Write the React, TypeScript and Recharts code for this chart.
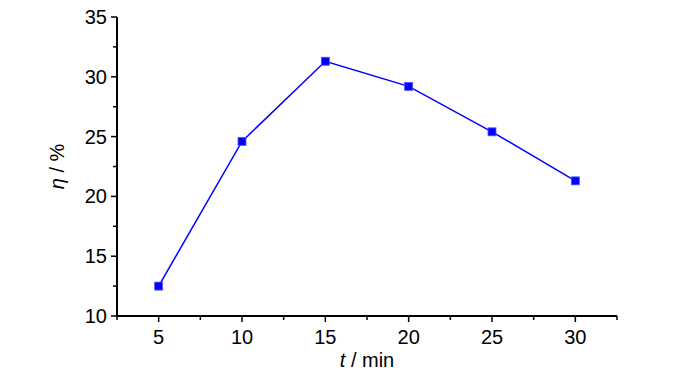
import { LineChart, Line, XAxis, YAxis, Label } from "recharts";

const times = [5, 10, 15, 20, 25, 30];
const efficiency = [12.5, 24.6, 31.3, 29.2, 25.4, 21.3];
const xTicks = [2.5, 5, 7.5, 10, 12.5, 15, 17.5, 20, 22.5, 25, 27.5, 30, 32.5];
const yTicks = [10, 12.5, 15, 17.5, 20, 22.5, 25, 27.5, 30, 32.5, 35];

const data = times.map((t, i) => ({ t, eta: efficiency[i] }));

const FONT = "'Liberation Sans', Arial, sans-serif";

const XTick = ({ x, y, payload }: any) => {
  const major = payload.value % 5 === 0;
  return (
    <g>
      <line x1={x} y1={y} x2={x} y2={y + (major ? 6 : 4)} stroke="#000" strokeWidth={1.5} />
      {major && (
        <text x={x} y={y + 28} textAnchor="middle" fontSize={20} fontFamily={FONT} fill="#000">
          {payload.value}
        </text>
      )}
    </g>
  );
};

const YTick = ({ x, y, payload }: any) => {
  const major = payload.value % 5 === 0;
  return (
    <g>
      <line x1={x} y1={y} x2={x - (major ? 6 : 4)} y2={y} stroke="#000" strokeWidth={1.5} />
      {major && (
        <text x={x - 10} y={y} textAnchor="end" dominantBaseline="central" fontSize={20} fontFamily={FONT} fill="#000">
          {payload.value}
        </text>
      )}
    </g>
  );
};

const SquareDot = ({ cx, cy }: any) => (
  <rect x={cx - 4} y={cy - 4} width={8} height={8} fill="#0000ff" stroke="#5555ff" strokeWidth={0.8} />
);

export default function App() {
  return (
    <div style={{ position: "absolute", left: 0, top: 0, background: "#fff" }}>
      <LineChart width={700} height={374} data={data} margin={{ top: 17, right: 83, left: 57, bottom: 18 }}>
        <XAxis
          dataKey="t"
          type="number"
          domain={[2.5, 32.5]}
          ticks={xTicks}
          interval={0}
          tickSize={0}
          tickMargin={0}
          tickLine={false}
          tick={<XTick />}
          axisLine={{ stroke: "#000", strokeWidth: 2 }}
          height={40}
        >
          <Label
            content={({ viewBox }: any) => (
              <text
                x={viewBox.x + viewBox.width / 2}
                y={viewBox.y + 51}
                textAnchor="middle"
                fontSize={20}
                fontFamily={FONT}
                fill="#000"
              >
                <tspan fontStyle="italic">t</tspan>
                <tspan> / min</tspan>
              </text>
            )}
          />
        </XAxis>
        <YAxis
          type="number"
          domain={[10, 35]}
          ticks={yTicks}
          interval={0}
          tickSize={0}
          tickMargin={0}
          tickLine={false}
          tick={<YTick />}
          axisLine={{ stroke: "#000", strokeWidth: 2 }}
          width={60}
        >
          <Label
            content={({ viewBox }: any) => {
              const cx = viewBox.x;
              const cy = viewBox.y + viewBox.height / 2;
              return (
                <text
                  x={cx}
                  y={cy}
                  transform={`rotate(-90, ${cx}, ${cy})`}
                  textAnchor="middle"
                  dominantBaseline="central"
                  fontSize={20}
                  fontFamily={FONT}
                  fill="#000"
                >
                  <tspan fontStyle="italic">η</tspan>
                  <tspan> / %</tspan>
                </text>
              );
            }}
          />
        </YAxis>
        <Line
          dataKey="eta"
          stroke="#0000ff"
          strokeWidth={1.5}
          dot={<SquareDot />}
          activeDot={false}
          isAnimationActive={false}
        />
      </LineChart>
    </div>
  );
}
